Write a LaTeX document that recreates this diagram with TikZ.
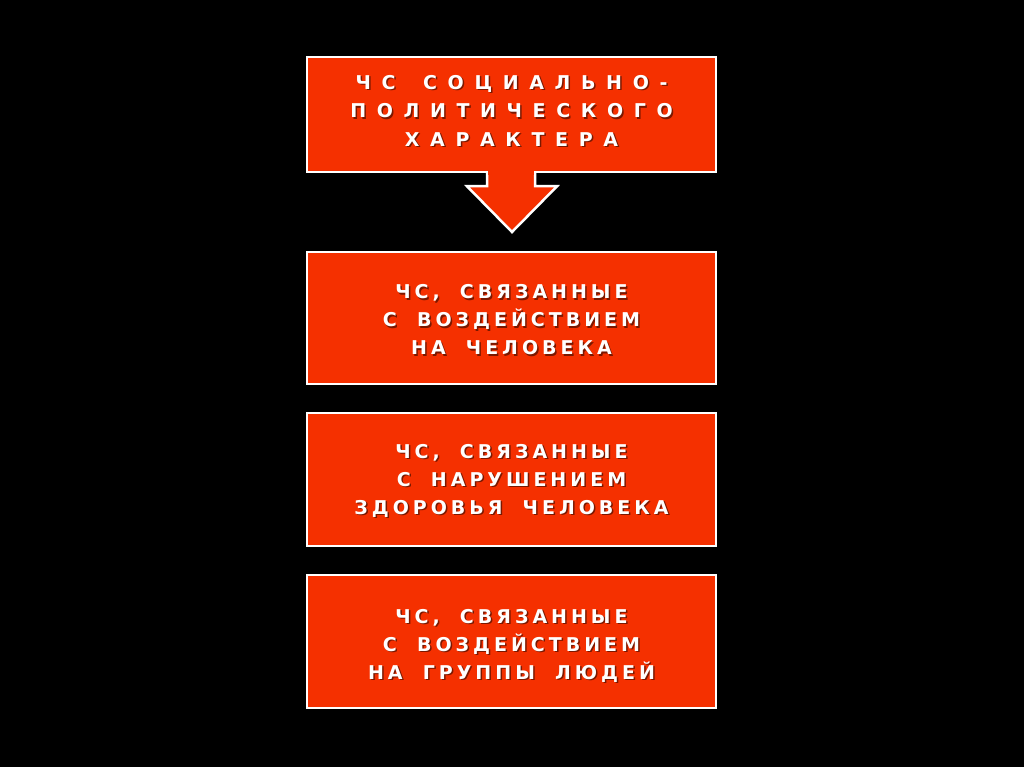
\documentclass[tikz,border=0pt]{standalone}
\usepackage{fontspec}
\usetikzlibrary{calc}
\newfontfamily\boxfont[LetterSpace=21,WordSpace=1.9]{DejaVu Sans}
\newfontfamily\topfont[LetterSpace=56,WordSpace=1.6]{DejaVu Sans}
\definecolor{boxred}{HTML}{F53000}
\definecolor{shadowred}{HTML}{7A1800}
\begin{document}
\begin{tikzpicture}[x=1pt,y=-1pt,
  box/.style={draw=white,line width=2.5pt,fill=boxred,minimum width=409pt,inner sep=0pt},
  txt/.style={text=white,align=center,font=\boxfont\bfseries\fontsize{19}{28}\selectfont},
  shd/.style={text=shadowred,align=center,font=\boxfont\bfseries\fontsize{19}{28}\selectfont},
  toptxt/.style={text=white,align=center,font=\topfont\bfseries\fontsize{19}{28.5}\selectfont},
  topshd/.style={text=shadowred,align=center,font=\topfont\bfseries\fontsize{19}{28.5}\selectfont}]
\fill[black] (0,0) rectangle (1024,767);
\useasboundingbox (0,0) rectangle (1024,767);
% boxes
\node[box,minimum height=115pt] (b1) at (511.5,114.5) {};
\node[box,minimum height=132pt] (b2) at (511.5,318) {};
\node[box,minimum height=133pt] (b3) at (511.5,479.5) {};
\node[box,minimum height=133pt] (b4) at (511.5,641.5) {};
% arrow from b1
\coordinate (tip) at (512,232);
\draw[white,line width=2.5pt,fill=boxred,line join=miter]
  ($(b1.south)+(-24.5,0)$) -- ($(b1.south)+(-24.5,13)$) -- ($(b1.south)+(-44.5,13)$) -- (tip)
  -- ($(b1.south)+(45.5,13)$) -- ($(b1.south)+(23.5,13)$) -- ($(b1.south)+(23.5,0)$);
\fill[boxred] ($(b1.south)+(-23.25,-3)$) rectangle ($(b1.south)+(22.25,2)$);
% texts
\node[topshd] at ($(b1.center)+(1.5,-2.5)$) {ЧС СОЦИАЛЬНО-\\ПОЛИТИЧЕСКОГО\\ХАРАКТЕРА};
\node[toptxt] (b1t) at ($(b1.center)+(0,-4)$) {ЧС СОЦИАЛЬНО-\\ПОЛИТИЧЕСКОГО\\ХАРАКТЕРА};
\foreach \n/\dy/\t in {b2/2/{ЧС, СВЯЗАННЫЕ\\С ВОЗДЕЙСТВИЕМ\\НА ЧЕЛОВЕКА},
                   b3/1/{ЧС, СВЯЗАННЫЕ\\С НАРУШЕНИЕМ\\ЗДОРОВЬЯ ЧЕЛОВЕКА},
                   b4/4/{ЧС, СВЯЗАННЫЕ\\С ВОЗДЕЙСТВИЕМ\\НА ГРУППЫ ЛЮДЕЙ}}{
  \node[shd] at ($(\n.center)+(1.5,\dy+1.5)$) {\t};
  \node[txt] (\n t) at ($(\n.center)+(0,\dy)$) {\t};
}
\end{tikzpicture}
\end{document}
